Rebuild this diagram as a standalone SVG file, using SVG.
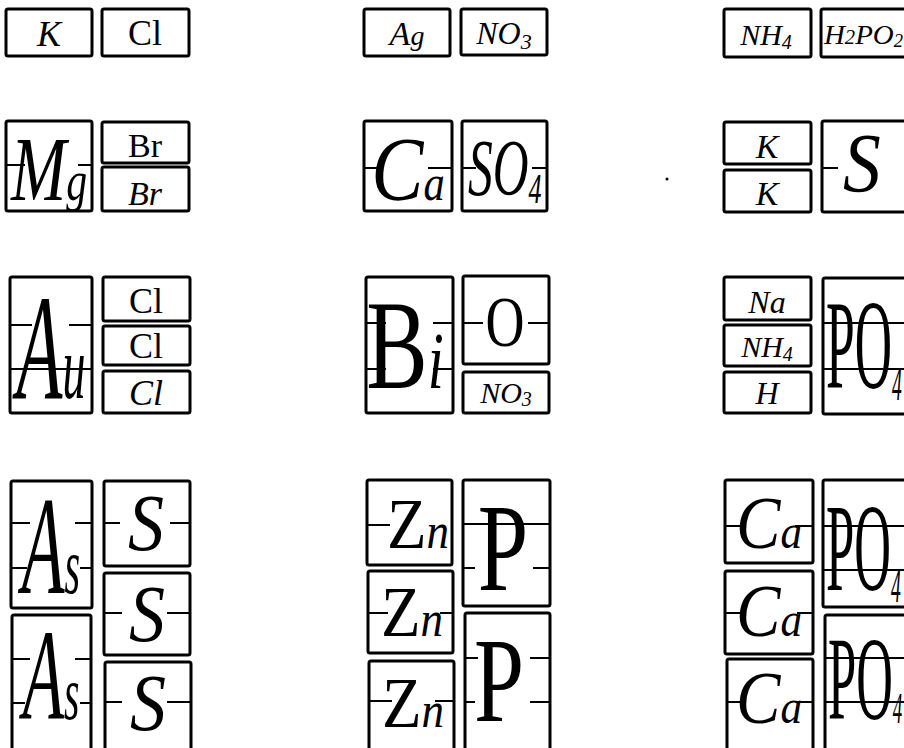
<svg xmlns="http://www.w3.org/2000/svg" width="904" height="748" viewBox="0 0 904 748">
<style>
.b{fill:none;stroke:#000;stroke-width:3;stroke-linejoin:round}
.g{stroke:#000;stroke-width:2;fill:none}
text{fill:#000;font-family:"Liberation Serif","DejaVu Serif",serif;text-anchor:middle}
.i{font-style:italic}
.s{text-anchor:start}
</style>
<rect width="904" height="748" fill="#fff"/>

<!-- Row 1 -->
<g id="K1"><rect class="b" x="6" y="9" width="86" height="47" rx="2"/><text class="i" x="49" y="46" font-size="36">K</text></g>
<g id="Cl1"><rect class="b" x="102" y="9" width="87" height="47" rx="2"/><text x="145" y="45" font-size="36">Cl</text></g>
<g id="Ag"><rect class="b" x="364" y="9" width="86" height="47" rx="2"/><text class="i" x="407" y="45" font-size="34">A<tspan font-size="28">g</tspan></text></g>
<g id="NO3a"><rect class="b" x="461" y="9" width="86" height="46" rx="2"/><text class="i" x="504" y="44" font-size="32">NO<tspan font-size="22" dy="5">3</tspan></text></g>
<g id="NH4a"><rect class="b" x="724" y="9" width="87" height="48" rx="2"/><text class="i" x="766" y="45" font-size="30">NH<tspan font-size="20" dy="4">4</tspan></text></g>
<g id="H2PO2"><rect class="b" x="821" y="9" width="90" height="48" rx="2"/><text class="i s" x="824" y="44" font-size="28" textLength="79" lengthAdjust="spacingAndGlyphs">H<tspan font-size="20">2</tspan>PO<tspan font-size="18" dy="3">2</tspan></text></g>

<!-- Row 2 -->
<g id="Mg"><rect class="b" x="6" y="121" width="86" height="90" rx="2"/>
<path class="g" d="M6 165H25M78 165H92"/>
<text class="i" transform="matrix(0.72 0 0 1 49 200)" font-size="92">M<tspan font-size="58">g</tspan></text></g>
<g id="Br1"><rect class="b" x="102" y="122" width="87" height="41" rx="2"/><text x="145" y="157" font-size="34">Br</text></g>
<g id="Br2"><rect class="b" x="102" y="167" width="87" height="44" rx="2"/><text class="i" x="145" y="205" font-size="34">Br</text></g>
<g id="Ca0"><rect class="b" x="364" y="121" width="88" height="90" rx="2"/>
<path class="g" d="M364 168H378M428 168H452"/>
<text class="i" transform="matrix(0.85 0 0 1 408 200)" font-size="92">C<tspan font-size="50">a</tspan></text></g>
<g id="SO4"><rect class="b" x="462" y="121" width="85" height="90" rx="2"/>
<path class="g" d="M462 168H476M532 168H547"/>
<text class="i s" transform="matrix(0.62 0 0 1 468 195)" font-size="80">SO<tspan font-size="42" dy="8">4</tspan></text></g>
<g id="K2"><rect class="b" x="724" y="122" width="87" height="42" rx="2"/><text class="i" x="767" y="158" font-size="34">K</text></g>
<g id="K3"><rect class="b" x="724" y="170" width="87" height="42" rx="2"/><text class="i" x="767" y="205" font-size="34">K</text></g>
<g id="S0"><rect class="b" x="822" y="121" width="90" height="91" rx="2"/>
<path class="g" d="M822 168H838"/>
<text class="i" transform="matrix(0.9 0 0 1 862 192)" font-size="84">S</text></g>
<circle cx="667" cy="179" r="1.5" fill="#000"/>

<!-- Row 3 -->
<g id="Au"><rect class="b" x="10" y="277" width="82" height="136" rx="2"/>
<path class="g" d="M10 325H32M69 325H92M10 369H92"/>
<text class="i" transform="matrix(0.5 0 0 1 51 398)" font-size="150">A<tspan font-size="92">u</tspan></text></g>
<g id="Cl2"><rect class="b" x="103" y="277" width="87" height="44" rx="2"/><text x="146" y="313" font-size="36">Cl</text></g>
<g id="Cl3"><rect class="b" x="103" y="326" width="87" height="39" rx="2"/><text x="146" y="358" font-size="36">Cl</text></g>
<g id="Cl4"><rect class="b" x="103" y="371" width="87" height="42" rx="2"/><text class="i" x="146" y="405" font-size="36">Cl</text></g>
<g id="Bi"><rect class="b" x="366" y="277" width="87" height="136" rx="2"/>
<path class="g" d="M366 323H386M433 323H453M366 369H386M433 369H453"/>
<text transform="matrix(0.72 0 0 1 405 388)" font-size="128">B<tspan class="i" font-size="80">i</tspan></text></g>
<g id="O"><rect class="b" x="463" y="276" width="86" height="88" rx="2"/>
<path class="g" d="M463 323H483M528 323H549"/>
<text transform="matrix(0.75 0 0 1 505 346)" font-size="72">O</text></g>
<g id="NO3b"><rect class="b" x="463" y="372" width="86" height="41" rx="2"/><text class="i" x="506" y="403" font-size="30">NO<tspan font-size="20" dy="3">3</tspan></text></g>
<g id="Na"><rect class="b" x="724" y="277" width="87" height="43" rx="2"/><text class="i" x="767" y="313" font-size="32">Na</text></g>
<g id="NH4b"><rect class="b" x="724" y="325" width="87" height="41" rx="2"/><text class="i" x="767" y="357" font-size="30">NH<tspan font-size="20" dy="4">4</tspan></text></g>
<g id="H"><rect class="b" x="724" y="372" width="87" height="41" rx="2"/><text class="i" x="767" y="404" font-size="32">H</text></g>
<g id="PO4a"><rect class="b" x="823" y="278" width="88" height="136" rx="2"/>
<path class="g" d="M823 323H904M823 369H904"/>
<text class="s" transform="matrix(0.41 0 0 1 826 388)" font-size="126">PO<tspan class="i" font-size="48" dy="12">4</tspan></text></g>

<!-- Row 4 -->
<g id="As1"><rect class="b" x="11" y="481" width="81" height="127" rx="2"/>
<path class="g" d="M11 523H30M75 523H92M11 568H27M80 568H92"/>
<text class="i" transform="matrix(0.5 0 0 1 51 593)" font-size="140">A<tspan font-size="80">s</tspan></text></g>
<g id="As2"><rect class="b" x="12" y="615" width="79" height="140" rx="2"/>
<path class="g" d="M12 659H30M75 659H91M12 703H25M80 703H91"/>
<text class="i" transform="matrix(0.52 0 0 1 51 719)" font-size="130">A<tspan font-size="76">s</tspan></text></g>
<g id="S1"><rect class="b" x="104" y="481" width="86" height="85" rx="2"/>
<path class="g" d="M104 523H120M170 523H190"/>
<text class="i" transform="matrix(0.9 0 0 1 146 550)" font-size="80">S</text></g>
<g id="S2"><rect class="b" x="104" y="573" width="86" height="82" rx="2"/>
<path class="g" d="M104 613H122M167 613H190"/>
<text class="i" transform="matrix(0.9 0 0 1 147 641)" font-size="80">S</text></g>
<g id="S3"><rect class="b" x="105" y="662" width="86" height="93" rx="2"/>
<path class="g" d="M105 702H122M167 702H191"/>
<text class="i" transform="matrix(0.9 0 0 1 148 730)" font-size="80">S</text></g>
<g id="Zn1"><rect class="b" x="367" y="480" width="85" height="85" rx="2"/>
<path class="g" d="M367 525H390"/>
<text transform="matrix(0.9 0 0 1 418 548)" font-size="72">Z<tspan class="i" font-size="50">n</tspan></text></g>
<g id="Zn2"><rect class="b" x="368" y="571" width="85" height="82" rx="2"/>
<path class="g" d="M368 613H388M440 613H453"/>
<text transform="matrix(0.9 0 0 1 412 636)" font-size="72">Z<tspan class="i" font-size="50">n</tspan></text></g>
<g id="Zn3"><rect class="b" x="369" y="661" width="85" height="94" rx="2"/>
<path class="g" d="M369 701H392M435 701H454"/>
<text transform="matrix(0.9 0 0 1 413 727)" font-size="72">Z<tspan class="i" font-size="50">n</tspan></text></g>
<g id="P1"><rect class="b" x="463" y="480" width="87" height="126" rx="2"/>
<path class="g" d="M463 524H550M463 568H475M533 568H550"/>
<text transform="matrix(0.72 0 0 1 503 590)" font-size="126">P</text></g>
<g id="P2"><rect class="b" x="465" y="613" width="85" height="142" rx="2"/>
<path class="g" d="M465 658H478M530 658H550M465 702H475M530 702H550"/>
<text transform="matrix(0.75 0 0 1 499 721)" font-size="120">P</text></g>
<g id="Ca1"><rect class="b" x="725" y="480" width="88" height="83" rx="2"/>
<path class="g" d="M725 526H742M795 526H813"/>
<text class="i" transform="matrix(0.9 0 0 1 769 548)" font-size="74">C<tspan font-size="48">a</tspan></text></g>
<g id="Ca2"><rect class="b" x="725" y="571" width="88" height="83" rx="2"/>
<path class="g" d="M725 613H740M797 613H813"/>
<text class="i" transform="matrix(0.9 0 0 1 769 636)" font-size="74">C<tspan font-size="48">a</tspan></text></g>
<g id="Ca3"><rect class="b" x="727" y="659" width="86" height="96" rx="2"/>
<path class="g" d="M727 702H740M795 702H813"/>
<text class="i" transform="matrix(0.9 0 0 1 769 723)" font-size="74">C<tspan font-size="48">a</tspan></text></g>
<g id="PO4b"><rect class="b" x="823" y="480" width="88" height="127" rx="2"/>
<path class="g" d="M823 526H904M823 570H904"/>
<text class="s" transform="matrix(0.41 0 0 1 826 590)" font-size="124">PO<tspan class="i" font-size="48" dy="12">4</tspan></text></g>
<g id="PO4c"><rect class="b" x="825" y="615" width="86" height="140" rx="2"/>
<path class="g" d="M825 658H904M825 702H904"/>
<text class="s" transform="matrix(0.43 0 0 1 828 719)" font-size="118">PO<tspan class="i" font-size="44" dy="4">4</tspan></text></g>
</svg>
